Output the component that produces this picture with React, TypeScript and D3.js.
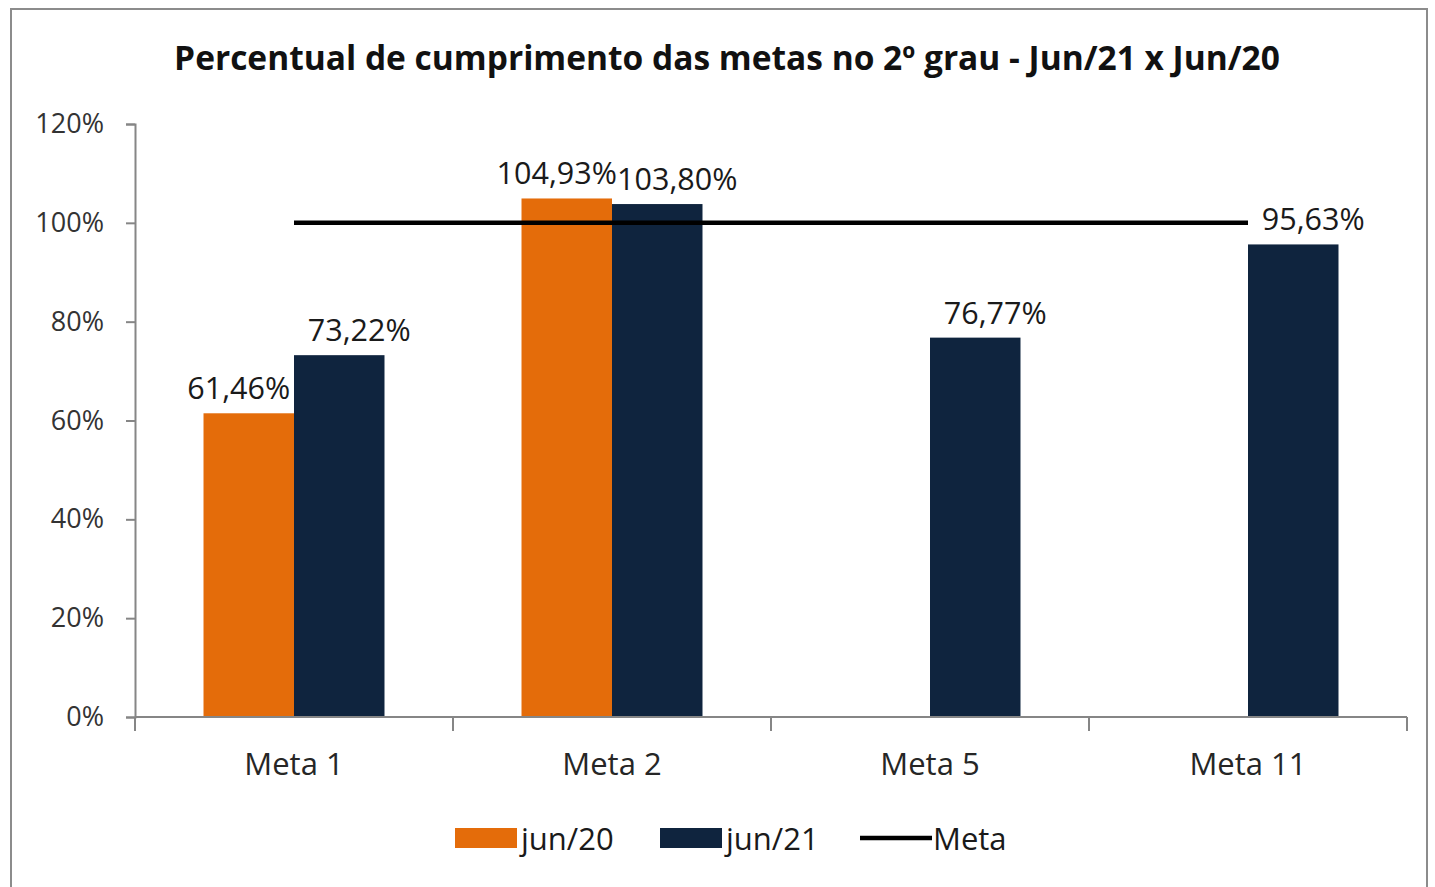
import { useEffect, useRef } from 'react';
import * as d3 from 'd3';

const categories = ['Meta 1', 'Meta 2', 'Meta 5', 'Meta 11'];
const seriesNames = ['jun/20', 'jun/21'];
const jun20 = [0.6146, 1.0493, null, null];
const jun21 = [0.7322, 1.038, 0.7677, 0.9563];
const metaValues = [1, 1, 1, 1];
const yTicks = [0, 0.2, 0.4, 0.6, 0.8, 1.0, 1.2];

const COLORS = { 'jun/20': '#E46C0A', 'jun/21': '#0F243E' };
const FONT = '"Open Sans", "Noto Sans", sans-serif';

const App = () => {
  const svgRef = useRef(null);

  useEffect(() => {
    const width = 1435;
    const height = 887;
    const margin = { top: 124, right: 28, bottom: 170, left: 135 };

    const svg = d3.select(svgRef.current);
    svg.selectAll('*').remove();

    svg.append('rect')
      .attr('x', 11).attr('y', 9)
      .attr('width', 1416).attr('height', 884)
      .attr('fill', '#fff')
      .attr('stroke', '#8c8c8c')
      .attr('stroke-width', 2);

    svg.append('text')
      .attr('x', 727).attr('y', 70)
      .attr('text-anchor', 'middle')
      .attr('font-family', FONT)
      .attr('font-weight', 'bold')
      .attr('font-size', 33.5)
      .attr('fill', '#111')
      .text('Percentual de cumprimento das metas no 2º grau - Jun/21 x Jun/20');

    const x = d3.scaleBand()
      .domain(categories)
      .range([margin.left, width - margin.right]);

    const x1 = d3.scaleBand()
      .domain(seriesNames)
      .range([0, x.bandwidth()])
      .paddingOuter(0.757);

    const y = d3.scaleLinear()
      .domain([0, 1.2])
      .range([height - margin.bottom, margin.top]);

    // y axis
    const yAxis = svg.append('g')
      .attr('transform', `translate(${margin.left},0)`)
      .call(d3.axisLeft(y).tickValues(yTicks).tickSize(9).tickPadding(22).tickFormat(d3.format('.0%')));
    yAxis.select('.domain').attr('stroke', '#868686').attr('stroke-width', 2);
    yAxis.selectAll('.tick line').attr('stroke', '#868686').attr('stroke-width', 2);
    yAxis.selectAll('.tick text')
      .attr('font-family', FONT).attr('font-size', 27).attr('fill', '#333');

    // bars
    const data = categories.map((c, i) => ({ cat: c, vals: [jun20[i], jun21[i]] }));
    const groups = svg.append('g').selectAll('g')
      .data(data)
      .join('g')
      .attr('transform', d => `translate(${x(d.cat)},0)`);

    const pts = d => seriesNames
      .map((s, j) => ({ s, v: d.vals[j] }))
      .filter(p => p.v != null);

    groups.selectAll('rect')
      .data(pts)
      .join('rect')
      .attr('x', p => x1(p.s))
      .attr('width', x1.bandwidth())
      .attr('y', p => y(p.v))
      .attr('height', p => y(0) - y(p.v))
      .attr('fill', p => COLORS[p.s]);

    // x axis
    const xAxisY = y(0);
    svg.append('line')
      .attr('x1', margin.left).attr('x2', width - margin.right)
      .attr('y1', xAxisY).attr('y2', xAxisY)
      .attr('stroke', '#868686').attr('stroke-width', 2);
    const bounds = categories.map(c => x(c)).concat([x(categories[categories.length - 1]) + x.bandwidth()]);
    svg.append('g').selectAll('line')
      .data(bounds)
      .join('line')
      .attr('x1', d => d).attr('x2', d => d)
      .attr('y1', xAxisY).attr('y2', xAxisY + 14)
      .attr('stroke', '#868686').attr('stroke-width', 2);
    svg.append('g').selectAll('text')
      .data(categories)
      .join('text')
      .attr('x', c => x(c) + x.bandwidth() / 2)
      .attr('y', xAxisY + 58)
      .attr('text-anchor', 'middle')
      .attr('font-family', FONT).attr('font-size', 31).attr('fill', '#262626')
      .text(c => c);

    // meta line
    const line = d3.line()
      .x((_, i) => x(categories[i]) + x.bandwidth() / 2)
      .y(v => y(v));
    svg.append('path')
      .datum(metaValues)
      .attr('d', line)
      .attr('fill', 'none')
      .attr('stroke', '#000')
      .attr('stroke-width', 4.5);

    // data labels
    const loc = d3.formatLocale({ decimal: ',', thousands: '.', grouping: [3], currency: ['R$', ''] });
    const fmt = loc.format('.2%');
    const labelDx = { 'jun/20': -10, 'jun/21': 20 };
    groups.selectAll('text.lbl')
      .data(pts)
      .join('text')
      .attr('class', 'lbl')
      .attr('x', p => x1(p.s) + x1.bandwidth() / 2 + labelDx[p.s])
      .attr('y', p => y(p.v) - 14)
      .attr('text-anchor', 'middle')
      .attr('font-family', FONT).attr('font-size', 30.5).attr('fill', '#1a1a1a')
      .text(p => fmt(p.v));

    // legend
    const legend = svg.append('g').attr('font-family', FONT).attr('font-size', 31).attr('fill', '#1a1a1a');
    const legendItems = [
      { name: 'jun/20', type: 'rect', x: 455 },
      { name: 'jun/21', type: 'rect', x: 660 },
      { name: 'Meta', type: 'line', x: 860 },
    ];
    legendItems.forEach(it => {
      if (it.type === 'rect') {
        legend.append('rect')
          .attr('x', it.x).attr('y', 828).attr('width', 62).attr('height', 20)
          .attr('fill', COLORS[it.name]);
        legend.append('text').attr('x', it.x + 66).attr('y', 850).text(it.name);
      } else {
        legend.append('line')
          .attr('x1', it.x).attr('x2', it.x + 72)
          .attr('y1', 838).attr('y2', 838)
          .attr('stroke', '#000').attr('stroke-width', 4.5);
        legend.append('text').attr('x', it.x + 73).attr('y', 850).text(it.name);
      }
    });
  }, []);

  return (
    <svg
      ref={svgRef}
      width={1435}
      height={887}
      style={{ position: 'absolute', left: 0, top: 0, background: '#fff' }}
    />
  );
};

export default App;
